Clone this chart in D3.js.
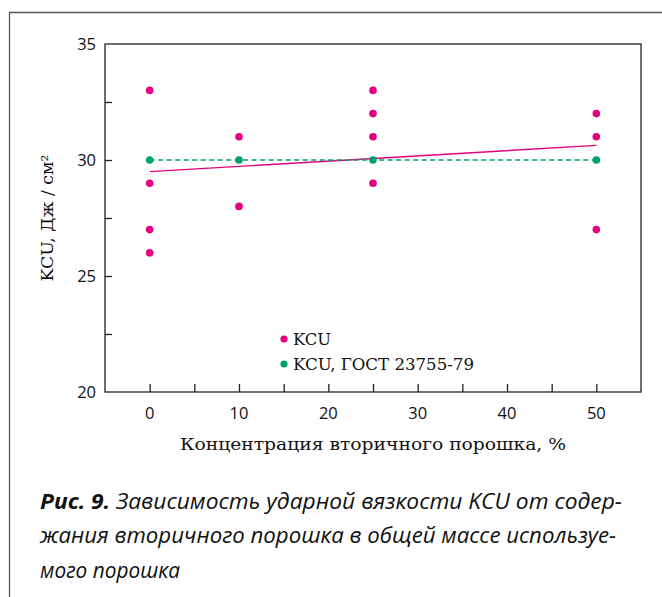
<!DOCTYPE html>
<html>
<head>
<meta charset="utf-8">
<script src="https://cdn.jsdelivr.net/npm/d3@7"></script>
<style>
  body { margin: 0; background: #fff; }
  svg { display: block; }
</style>
</head>
<body>
<div id="chart"></div>
<script>
// KCU measurements, by concentration of secondary powder (%)
const kcuX = [0, 0, 0, 0, 10, 10, 25, 25, 25, 25, 50, 50, 50];
const kcuY = [33, 29, 27, 26, 31, 28, 33, 32, 31, 29, 32, 31, 27];
// KCU required by GOST 23755-79
const gostX = [0, 10, 25, 50];
const gostY = [30, 30, 30, 30];
// trend line end points
const trendX = [0, 50];
const trendY = [29.5, 30.63];

const xTicks = [0, 10, 20, 30, 40, 50];
const xMinor = [0, 5, 10, 15, 20, 25, 30, 35, 40, 45, 50];
const yTicks = [20, 25, 30, 35];
const yMinor = [22.5, 25, 27.5, 30, 32.5];

const legendLabels = ["KCU", "KCU, ГОСТ 23755-79"];
const xTitle = "Концентрация вторичного порошка, %";
const yTitle = "KCU, Дж / см²";
const captionBold = "Рис. 9.";
const captionLines = [
  " Зависимость ударной вязкости KCU от содер-",
  "жания вторичного порошка в общей массе используе-",
  "мого порошка"
];

const W = 662, H = 597;
const pink = "#e5007d", green = "#00a06e";
const m = { left: 105, top: 44, right: 641, bottom: 392 };

const svg = d3.select("#chart").append("svg")
  .attr("width", W).attr("height", H);

// outer frame
svg.append("path")
  .attr("d", `M9.5,${H} V12.5 H${W}`)
  .attr("fill", "none").attr("stroke", "#555").attr("stroke-width", 1.3);

const x = d3.scaleLinear().domain([-5, 55]).range([m.left, m.right]);
const y = d3.scaleLinear().domain([20, 35]).range([m.bottom, m.top]);

const tickFont = "'Open Sans', 'Noto Sans', sans-serif";
const serif = "'DejaVu Serif', 'Liberation Serif', serif";

// plot box
svg.append("rect")
  .attr("x", m.left).attr("y", m.top)
  .attr("width", m.right - m.left).attr("height", m.bottom - m.top)
  .attr("fill", "none").attr("stroke", "#222").attr("stroke-width", 1.3);

// bottom axis: inward ticks every 5, labels every 10
const xAxis = svg.append("g").attr("transform", `translate(0,${m.bottom})`);
xAxis.call(d3.axisBottom(x).tickValues(xMinor).tickSize(-8).tickFormat(""));
xAxis.select(".domain").remove();
xAxis.selectAll("line").attr("stroke", "#222").attr("stroke-width", 1.3);
svg.append("g").selectAll("text").data(xTicks).join("text")
  .attr("x", d => x(d)).attr("y", m.bottom + 26.5)
  .attr("text-anchor", "middle")
  .attr("font-family", tickFont).attr("font-size", 16.5)
  .attr("fill", "#111").text(d => d);

// left axis: inward ticks every 2.5
const yAxis = svg.append("g").attr("transform", `translate(${m.left},0)`);
yAxis.call(d3.axisLeft(y).tickValues(yMinor).tickSize(-7).tickFormat(""));
yAxis.select(".domain").remove();
yAxis.selectAll("line").attr("stroke", "#222").attr("stroke-width", 1.3);
svg.append("g").selectAll("text").data(yTicks).join("text")
  .attr("x", m.left - 9).attr("y", d => y(d) + 6)
  .attr("text-anchor", "end")
  .attr("font-family", tickFont).attr("font-size", 16.5)
  .attr("fill", "#111").text(d => d);

// axis titles
svg.append("text")
  .attr("x", (m.left + m.right) / 2).attr("y", 450)
  .attr("text-anchor", "middle")
  .attr("font-family", serif).attr("font-size", 17)
  .attr("textLength", 386).attr("lengthAdjust", "spacingAndGlyphs")
  .attr("fill", "#111").text(xTitle);
svg.append("text")
  .attr("transform", `translate(53,${(m.top + m.bottom) / 2}) rotate(-90)`)
  .attr("text-anchor", "middle")
  .attr("font-family", serif).attr("font-size", 16.5)
  .attr("textLength", 127).attr("lengthAdjust", "spacingAndGlyphs")
  .attr("fill", "#111").text(yTitle);

// trend line
svg.append("path")
  .datum(d3.zip(trendX, trendY))
  .attr("d", d3.line().x(d => x(d[0])).y(d => y(d[1])))
  .attr("fill", "none").attr("stroke", pink).attr("stroke-width", 1.4);

// GOST dashed line
svg.append("path")
  .datum(d3.zip(gostX, gostY))
  .attr("d", d3.line().x(d => x(d[0])).y(d => y(d[1])))
  .attr("fill", "none").attr("stroke", green).attr("stroke-width", 1.6)
  .attr("stroke-dasharray", "5,3.5");

// points
svg.append("g").selectAll("circle").data(d3.zip(kcuX, kcuY)).join("circle")
  .attr("cx", d => x(d[0])).attr("cy", d => y(d[1])).attr("r", 3.8)
  .attr("fill", pink);
svg.append("g").selectAll("circle").data(d3.zip(gostX, gostY)).join("circle")
  .attr("cx", d => x(d[0])).attr("cy", d => y(d[1])).attr("r", 3.8)
  .attr("fill", green);

// legend
const lg = svg.append("g").attr("transform", "translate(284,339)");
lg.selectAll("circle").data(legendLabels).join("circle")
  .attr("cx", 0).attr("cy", (d, i) => i * 25).attr("r", 3.6)
  .attr("fill", (d, i) => i ? green : pink);
lg.selectAll("text").data(legendLabels).join("text")
  .attr("x", 9).attr("y", (d, i) => i * 25 + 6)
  .attr("font-family", serif).attr("font-size", 17)
  .attr("textLength", (d, i) => i ? 181 : 38).attr("lengthAdjust", "spacingAndGlyphs")
  .attr("fill", "#111").text(d => d);

// caption
const capWidths = [582, 576, 140];
const cap = svg.append("g").attr("font-family", "'Open Sans', 'Noto Sans', sans-serif")
  .attr("font-size", 22).attr("fill", "#111");
captionLines.forEach((line, i) => {
  const t = cap.append("text").attr("x", 40).attr("y", 509 + i * 34.3)
    .attr("textLength", capWidths[i]).attr("lengthAdjust", "spacingAndGlyphs");
  if (i === 0) t.append("tspan").attr("font-weight", "bold").attr("font-style", "italic").text(captionBold);
  t.append("tspan").attr("font-style", "italic").text(line);
});
</script>
</body>
</html>
